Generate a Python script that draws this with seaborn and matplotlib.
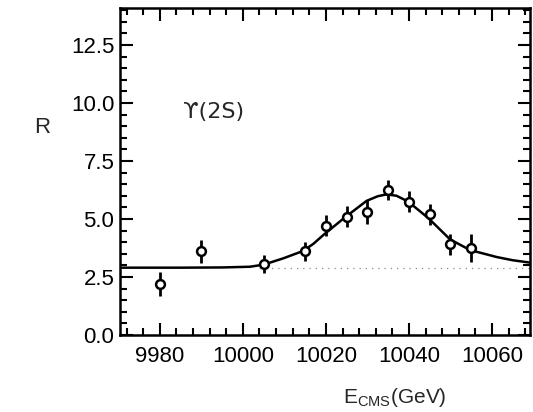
import matplotlib
matplotlib.use("Agg")
import matplotlib.pyplot as plt
import seaborn as sns
import pandas as pd
from matplotlib.ticker import MultipleLocator, FormatStrFormatter

# measured points
energy = [9980, 9990, 10005, 10015, 10020, 10025, 10030, 10035, 10040, 10045, 10050, 10055]
ratio = [2.2, 3.6, 3.05, 3.6, 4.7, 5.1, 5.3, 6.25, 5.75, 5.2, 3.9, 3.75]
ratio_err = [0.5, 0.5, 0.4, 0.4, 0.45, 0.45, 0.5, 0.45, 0.45, 0.45, 0.45, 0.6]

# fitted curve
fit_e = [9970.4, 9985, 9995, 10001.7, 10005, 10009.7, 10014.5, 10017, 10019.4, 10024.6,
         10029.8, 10032.5, 10034.6, 10037, 10039.8, 10044.7, 10049.9, 10054.7, 10061.1,
         10065, 10069.1]
fit_r = [2.90, 2.90, 2.91, 2.94, 3.03, 3.30, 3.62, 3.93, 4.31, 5.07,
         5.78, 5.98, 6.06, 6.00, 5.75, 5.03, 4.12, 3.66, 3.36,
         3.22, 3.12]

# dotted continuum level
cont_e = [10004, 10069.1]
cont_r = [2.87, 2.87]

sns.set_theme(style="ticks")
plt.rcParams["font.family"] = ["Liberation Sans", "DejaVu Sans"]

fig = plt.figure(figsize=(5.33, 4.12), dpi=100)
ax = fig.add_axes([0.225, 0.187, 0.769, 0.794])

fit_df = pd.DataFrame({"E": fit_e, "R": fit_r})
sns.lineplot(data=fit_df, x="E", y="R", sort=False, color="black", lw=1.8, ax=ax)
ax.plot(cont_e, cont_r, color="0.55", lw=0.9, ls=(0, (1, 4)))

ax.errorbar(energy, ratio, yerr=ratio_err, fmt="none", ecolor="black", elinewidth=2, capsize=0)
pts = pd.DataFrame({"E": energy, "R": ratio})
sns.scatterplot(data=pts, x="E", y="R", marker="o", s=40, facecolor="white",
                edgecolor="black", linewidth=1.8, zorder=5, ax=ax)

ax.set_xlim(9970.4, 10069.1)
ax.set_ylim(0, 14.1)
ax.xaxis.set_major_locator(MultipleLocator(20))
ax.xaxis.set_minor_locator(MultipleLocator(4))
ax.yaxis.set_major_locator(MultipleLocator(2.5))
ax.yaxis.set_minor_locator(MultipleLocator(0.5))
ax.yaxis.set_major_formatter(FormatStrFormatter("%.1f"))
ax.tick_params(which="both", direction="in", top=True, right=True, colors="black",
               width=1.5, labelsize=16)
ax.tick_params(which="major", length=9)
ax.tick_params(which="minor", length=5)
ax.tick_params(axis="x", pad=8)
ax.tick_params(axis="y", pad=4)
for sp in ax.spines.values():
    sp.set_visible(True)
    sp.set_linewidth(1.8)
    sp.set_color("black")

ax.set_xlabel("")
ax.set_ylabel("")
fig.text(0.079, 0.69, "R", fontsize=16, ha="center", va="center")
fig.text(0.74, 0.035, r"E$_{\mathregular{CMS}}$(GeV)", fontsize=15, ha="center", va="center")
ax.text(9985.5, 9.6, "\u03d2(2S)", fontsize=16, ha="left", va="center",
        family=["DejaVu Sans"])

fig.savefig("out.png", dpi=100)
